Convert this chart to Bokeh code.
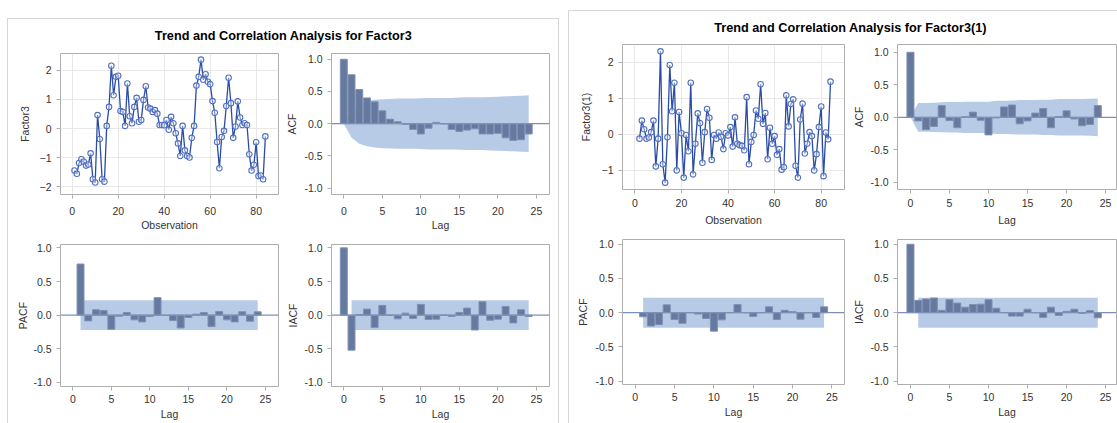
from bokeh.plotting import figure
from bokeh.layouts import row, column
from bokeh.models import FixedTicker, Range1d, Span, Label, NumeralTickFormatter
from bokeh.embed import file_html
from bokeh.resources import INLINE

FONT = "Liberation Sans"

# ---- data -------------------------------------------------------------
obs = list(range(1, 85))
factor3 = [
    -1.44, -1.55, -1.18, -1.05, -1.14, -1.27, -1.23, -0.85, -1.74, -1.85,
    0.46, -0.36, -1.74, -1.82, 0.09, 0.74, 2.15, 1.14, 1.77, 1.81,
    0.60, 0.57, 0.09, 1.54, 0.42, 0.18, 0.74, 1.05, 0.23, 0.29,
    0.98, 1.45, 0.72, 0.68, 0.57, 0.63, 0.51, 0.12, 0.12, 0.11,
    0.29, -0.04, 0.40, 0.18, -0.16, -0.51, -0.94, 0.09, -0.75, -0.94,
    -0.99, -0.32, 0.09, 1.47, 1.77, 2.36, 1.67, 1.86, 1.60, 1.52,
    0.94, 0.54, -0.46, -1.36, -0.29, -0.08, 0.77, 1.74, 0.87, -0.32,
    0.07, 0.93, 0.38, 0.12, 0.18, 0.12, -0.88, -1.44, -1.24, -0.47,
    -1.63, -1.61, -1.74, -0.27,
]

obs_d1 = list(range(2, 85))
factor3_d1 = [
    -0.12, 0.38, 0.14, -0.12, -0.09, 0.06, 0.38, -0.89, -0.12, 2.30,
    -0.83, -1.34, -0.08, 1.92, 0.64, 1.43, -1.00, 0.62, 0.03, -1.20,
    -0.02, -0.47, 1.43, -1.11, -0.26, 0.58, 0.31, -0.79, 0.06, 0.70,
    0.46, -0.71, -0.02, -0.12, 0.05, -0.07, -0.41, 0.03, -0.03, 0.20,
    -0.34, 0.47, -0.26, -0.30, -0.32, -0.44, 1.03, -0.83, -0.21, -0.02,
    0.66, 0.43, 1.39, 0.29, 0.59, -0.69, 0.18, -0.26, -0.05, -0.57,
    -0.41, -0.98, -0.91, 1.08, 0.22, 0.84, 0.97, -0.87, -1.20, 0.41,
    0.85, -0.53, -0.26, 0.06, -0.05, -1.00, -0.55, 0.20, 0.77, -1.16,
    0.05, -0.14, 1.46,
]

lags0 = list(range(0, 25))
lags1 = list(range(1, 25))

acf_f3 = [1.00, 0.76, 0.53, 0.40, 0.34, 0.20, 0.07, 0.03, -0.01, -0.09,
          -0.16, -0.07, 0.02, -0.005, -0.09, -0.12, -0.10, -0.08, -0.16, -0.16,
          -0.15, -0.22, -0.26, -0.25, -0.16]
acf_f3_limit = [0.00, 0.22, 0.31, 0.35, 0.37, 0.38, 0.385, 0.39, 0.39, 0.39,
                0.395, 0.40, 0.40, 0.40, 0.40, 0.405, 0.41, 0.41, 0.41, 0.415,
                0.42, 0.425, 0.43, 0.435, 0.44]
pacf_f3 = [0.76, -0.085, 0.08, 0.07, -0.21, -0.015, 0.04, -0.07, -0.10, -0.02,
           0.26, -0.005, -0.08, -0.19, -0.035, 0.015, 0.04, -0.17, 0.055, -0.07,
           -0.10, 0.05, -0.09, 0.05]
iacf_f3 = [1.00, -0.52, 0.01, 0.09, -0.185, 0.145, 0.00, -0.055, 0.03, -0.05,
           0.16, -0.065, -0.06, 0.00, -0.02, 0.04, 0.105, -0.22, 0.20, -0.075,
           -0.06, 0.13, -0.115, 0.08, -0.02]

acf_d1 = [1.00, -0.055, -0.19, -0.14, 0.18, -0.05, -0.16, 0.01, 0.08, -0.045,
          -0.27, -0.01, 0.16, 0.19, -0.10, -0.055, 0.065, 0.135, -0.16, 0.01,
          0.10, -0.025, -0.13, -0.11, 0.18]
acf_d1_limit = [0.00, 0.22, 0.22, 0.225, 0.23, 0.235, 0.235, 0.24, 0.24, 0.24,
                0.24, 0.255, 0.255, 0.26, 0.265, 0.265, 0.265, 0.27, 0.27, 0.28,
                0.28, 0.28, 0.28, 0.285, 0.29]
pacf_d1 = [-0.06, -0.195, -0.175, 0.115, -0.10, -0.155, 0.00, -0.02, -0.085, -0.27,
           -0.105, 0.00, 0.12, 0.00, -0.055, 0.00, 0.085, -0.10, 0.035, 0.015,
           -0.095, 0.00, -0.07, 0.085]
iacf_d1 = [1.00, 0.18, 0.20, 0.215, 0.035, 0.19, 0.14, 0.08, 0.12, 0.125,
           0.19, 0.065, 0.00, -0.05, -0.05, 0.05, 0.00, -0.07, 0.08, -0.04,
           0.02, 0.05, -0.01, 0.03, -0.075]

# two-standard-error limit for partial / inverse autocorrelations
pacf_limit = 0.22

# ---- style ------------------------------------------------------------
FRAME = "#aeaeae"
TEXT = "#333333"
GRID = "#e8e8e8"
LINE = "#2a4ca6"
MARK = "#4f6fc0"
BAR = "#667aa0"
BAR_EDGE = "#7f90b3"
BAND = "#b8cbe6"
REF = "#7d90b6"
PANEL = "#d6d6d6"


def style_axes(p, xlabel, ylabel, xstand, ylab_standoff):
    p.outline_line_color = FRAME
    p.outline_line_width = 1
    p.background_fill_color = "white"
    p.border_fill_color = "white"
    for ax in (p.xaxis[0], p.yaxis[0]):
        ax.axis_line_color = None
        ax.major_tick_line_color = FRAME
        ax.major_tick_out = 4
        ax.major_tick_in = 0
        ax.minor_tick_line_color = None
        ax.major_label_text_font = FONT
        ax.major_label_text_font_size = "10.5px"
        ax.major_label_text_color = TEXT
        ax.axis_label_text_font = FONT
        ax.axis_label_text_font_size = "10.5px"
        ax.axis_label_text_font_style = "normal"
        ax.axis_label_text_color = TEXT
    p.xaxis[0].axis_label = xlabel
    p.yaxis[0].axis_label = ylabel
    p.xaxis[0].major_label_standoff = xstand[0]
    p.xaxis[0].axis_label_standoff = xstand[1]
    p.yaxis[0].major_label_standoff = 5
    p.yaxis[0].axis_label_standoff = ylab_standoff


def base_fig(w, h, borders, xr, yr):
    l, r, t, b = borders
    return figure(width=w, height=h, x_range=Range1d(*xr), y_range=Range1d(*yr),
                  min_border_left=l, min_border_right=r, min_border_top=t,
                  min_border_bottom=b, toolbar_location=None,
                  output_backend="svg")


def series_fig(x, y, ylabel, w, h, borders, xr, yr, yticks, xstand, ylab_standoff):
    p = base_fig(w, h, borders, xr, yr)
    p.line(x, y, line_color=LINE, line_width=1.3)
    p.scatter(x, y, marker="circle", size=5.5, line_color=MARK, line_width=1.1,
              fill_color="white", fill_alpha=0.4)
    p.xaxis.ticker = FixedTicker(ticks=[0, 20, 40, 60, 80])
    p.yaxis.ticker = FixedTicker(ticks=yticks)
    p.grid.grid_line_color = GRID
    p.grid.grid_line_width = 1
    style_axes(p, "Observation", ylabel, xstand, ylab_standoff)
    return p


def corr_fig(x, vals, band_x, band_lo, band_hi, ylabel, w, h, borders, xr, yr,
             xstand, ylab_standoff):
    p = base_fig(w, h, borders, xr, yr)
    p.varea(x=band_x, y1=band_lo, y2=band_hi, fill_color=BAND)
    p.vbar(x=x, top=vals, bottom=0, width=0.9, fill_color=BAR,
           line_color=BAR_EDGE, line_width=1)
    p.add_layout(Span(location=0, dimension="width", line_color=REF,
                      line_width=1.2))
    p.xaxis.ticker = FixedTicker(ticks=[0, 5, 10, 15, 20, 25])
    p.yaxis.ticker = FixedTicker(ticks=[-1.0, -0.5, 0.0, 0.5, 1.0])
    p.yaxis.formatter = NumeralTickFormatter(format="0.0")
    p.grid.grid_line_color = None
    style_axes(p, "Lag", ylabel, xstand, ylab_standoff)
    return p


def title_fig(text, w, h, xpos):
    p = figure(width=w, height=h, x_range=Range1d(0, 1), y_range=Range1d(0, 1),
               x_axis_type=None, y_axis_type=None, min_border=0,
               toolbar_location=None, output_backend="svg")
    p.grid.visible = False
    p.outline_line_color = None
    p.add_layout(Label(x=xpos, y=0.5, text=text, text_font=FONT,
                       text_font_size="12.7px", text_font_style="bold",
                       text_color="black", text_align="center",
                       text_baseline="middle"))
    return p


def neg(vals):
    return [-v for v in vals]


# ---- left panel: Factor3 -----------------------------------------------
lag_xr = (-1.6, 26.7)
top_x = (8, 1)
bot_x = (4, 2)

t1 = title_fig("Trend and Correlation Analysis for Factor3", 550, 32, 0.5)
s1 = series_fig(obs, factor3, "Factor3", 275, 182, (52, 5, 1, 37),
                (-5.1, 89.7), (-2.26, 2.57), [-2, -1, 0, 1, 2], top_x, 6)
a1 = corr_fig(lags0, acf_f3, lags0, neg(acf_f3_limit), acf_f3_limit, "ACF",
              275, 182, (48, 9, 2, 38), lag_xr, (-1.10, 1.09), top_x, 3)
p1 = corr_fig(lags1, pacf_f3, lags1, [-pacf_limit] * 24, [pacf_limit] * 24,
              "PACF", 275, 190, (52, 5, 11, 37), lag_xr, (-1.06, 1.05), bot_x, 1)
i1 = corr_fig(lags0, iacf_f3, lags1, [-pacf_limit] * 24, [pacf_limit] * 24,
              "IACF", 275, 190, (48, 9, 11, 37), lag_xr, (-1.06, 1.05), bot_x, 2)

left = column(t1, row(s1, a1), row(p1, i1), margin=(18, 0, 0, 7),
              styles={"border-left": f"1px solid {PANEL}",
                      "border-top": f"1px solid {PANEL}",
                      "border-right": f"1px solid {PANEL}"})

# ---- right panel: first difference of Factor3 ------------------------------
lag_xr2 = (-1.62, 26.6)
top_x2 = (5, 4)

t2 = title_fig("Trend and Correlation Analysis for Factor3(1)", 548, 32, 0.513)
s2 = series_fig(obs_d1, factor3_d1, "Factor3(1)", 281, 185, (53, 6, 1, 37),
                (-5.3, 90.0), (-1.53, 2.49), [-1, 0, 1, 2], top_x2, 7)
a2 = corr_fig(lags0, acf_d1, lags0, neg(acf_d1_limit), acf_d1_limit, "ACF",
              267, 185, (47, 1, 1, 37), (-1.66, 26.4), (-1.11, 1.12), top_x2, 2)
p2 = corr_fig(lags1, pacf_d1, lags1, [-pacf_limit] * 24, [pacf_limit] * 24,
              "PACF", 281, 195, (53, 6, 11, 39), lag_xr2, (-1.05, 1.07), bot_x, 3)
i2 = corr_fig(lags0, iacf_d1, lags1, [-pacf_limit] * 24, [pacf_limit] * 24,
              "IACF", 267, 195, (47, 1, 11, 39), (-1.66, 26.4), (-1.05, 1.07), bot_x, 2)

right = column(t2, row(s2, a2), row(p2, i2), margin=(10, 0, 0, 9),
               styles={"border-left": f"1px solid {PANEL}",
                       "border-top": f"1px solid {PANEL}"})

page = row(left, right)

open("out.html", "w").write(file_html(page, INLINE))
